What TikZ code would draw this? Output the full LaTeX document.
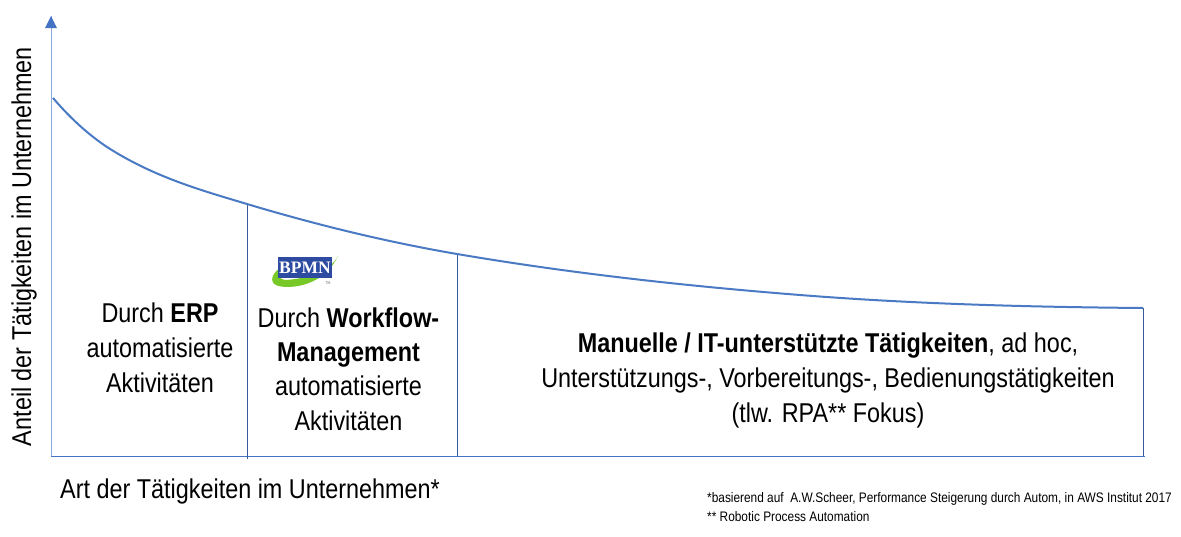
\documentclass[tikz,border=0pt]{standalone}
\usepackage{fontspec}
\setmainfont{Liberation Sans}[FakeStretch=0.86]
\newfontfamily\logofont{Liberation Serif}
\definecolor{axisblue}{RGB}{68,114,196}
\definecolor{curveblue}{RGB}{74,122,196}
\definecolor{bpmnblue}{RGB}{45,75,160}
\definecolor{bpmngreen}{RGB}{120,200,40}
\begin{document}
\begin{tikzpicture}[x=1pt,y=-1pt]

    \tikzset{
      axisline/.style={
        color=axisblue,
        line width=0.9pt,
      },
      divider/.style={
        color=axisblue!80!black,
        line width=0.7pt,
      },
      label/.style={
        align=center,
        inner sep=0pt,
        font=\fontsize{27.2}{35}\selectfont,
      },
      footnote/.style={
        anchor=west,
        inner sep=0pt,
        font=\fontsize{13.8}{15}\selectfont,
      },
    }
    \useasboundingbox (0,0) rectangle (1181,536);
    \coordinate (origin) at (51,456);
    \coordinate (ytop) at (51,16);
    \coordinate (xend) at (1145,456);
    \coordinate (curvea) at (247,204);
    \coordinate (curveb) at (457,254);
    \coordinate (curvec) at (1143,308);
    \coordinate (diva) at (247,459);
    \coordinate (divb) at (457,456);
    \coordinate (divc) at (1143,456);
    \draw[axisline,color=axisblue!60] (origin)--(ytop);
    \draw[axisline] (origin)--(xend);
    \fill[axisblue] (45,28)--(51,16)--(57,28)--cycle;
    \draw[divider] (curvea)--(diva);
    \draw[divider] (curveb)--(divb);
    \draw[divider] (curvec)--(divc);
    \draw[color=curveblue,line width=2pt] (53,98) .. controls (71,119) and (89,135) .. (107,147) .. controls (153.7,177) and (200.3,190) .. (curvea) .. controls (317,225) and (387,242) .. (curveb) .. controls (571,273.4) and (686,286) .. (800,295) .. controls (914,304) and (1029,307) .. (curvec);

    \node[label,rotate=90] (ylabel) at (24,246.5) {Anteil der Tätigkeiten im Unternehmen};
    \node[label,anchor=west] (xlabel) at (60,491.5) {Art der Tätigkeiten im Unternehmen*};
    \node[label] (erp) at (160,348) {Durch \textbf{ERP}\\automatisierte\\Aktivitäten};
    \node[label,font=\fontsize{27.2}{34.4}\selectfont] (workflow) at (348.5,369) {Durch \textbf{Workflow-}\\\textbf{Management}\\automatisierte\\Aktivitäten};
    \node[label] (manual) at (828,380) {\textbf{Manuelle / IT-unterstützte Tätigkeiten}, ad hoc,\\Unterstützungs-, Vorbereitungs-, Bedienungstätigkeiten\\(tlw. RPA** Fokus)};
    \node[footnote] (source) at (707,498.5) {*basierend auf\ \ A.W.Scheer, Performance Steigerung durch Autom, in AWS Institut 2017};
    \node[footnote] (rpa) at (707,516.5) {** Robotic Process Automation};

    \fill[bpmngreen] (282,267) .. controls (272,272) and (269,282) .. (276,285) .. controls (283,289) and (322,290) .. (338,256) .. controls (330,272) and (305,279) .. (285,280) .. controls (279,280) and (279,274) .. (282,267)--cycle;
    \node[fill=bpmnblue,text=white,inner sep=0pt,minimum width=54pt,minimum height=21pt,font=\fontsize{17.5}{18}\logofont\bfseries] (logo) at (305,267.5) {BPMN};
    \node[inner sep=0pt,font=\fontsize{4}{5}\selectfont,text=black!60] (logotm) at (328,283) {TM};

\end{tikzpicture}
\end{document}
